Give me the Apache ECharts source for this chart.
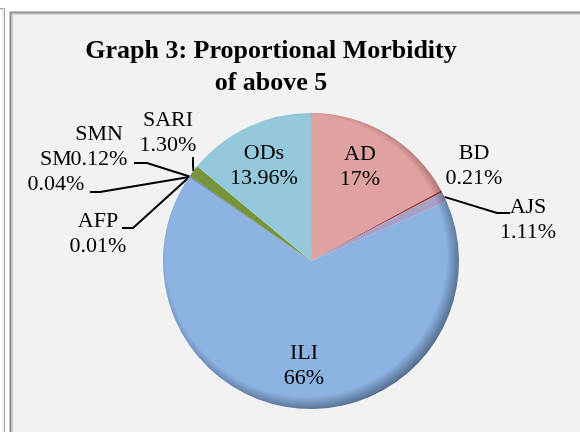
<!DOCTYPE html>
<html>
<head>
<meta charset="utf-8">
<script src="https://cdn.jsdelivr.net/npm/echarts@6/dist/echarts.min.js"></script>
<style>
  html, body { margin: 0; padding: 0; background: #fff; }
  #chart { width: 580px; height: 432px; }
</style>
</head>
<body>
<div id="chart"></div>
<script>
// data (share of cases, %)
const categories = ['AD', 'BD', 'AJS', 'ILI', 'AFP', 'SM', 'SMN', 'SARI', 'ODs'];
const shares = [17.1, 0.21, 1.11, 66.15, 0.01, 0.04, 0.12, 1.30, 13.96];
const shareLabels = ['17%', '0.21%', '1.11%', '66%', '0.01%', '0.04%', '0.12%', '1.30%', '13.96%'];

// look
const colors = ['#E0A2A1', '#953735', '#A9A0C6', '#8DB3E2', '#C0504D', '#8064A2', '#4F81BD', '#77933C', '#93C9DA'];
const shades = ['#8E5655', '#5A1C1B', '#5E5674', '#4D6686', '#6E2A28', '#473760', '#2B4A70', '#44561F', '#4F7583'];
const CX = 311, CY = 261, R = 148;

// label centres and leader bends
const labelPos = {
  AD: [360, 167], BD: [474, 166], AJS: [528, 220], ILI: [304, 366],
  AFP: [98, 234], SM: [56, 172], SMN: [99, 147], SARI: [168, 133], ODs: [264, 166]
};
const leaderBends = {
  AJS: [[497, 213], [510, 213]],
  AFP: [[133, 228], [122, 228]],
  SM: [[100, 192], [90, 192]],
  SMN: [[147, 163], [134, 163]],
  SARI: [[193, 165], [193, 157]]
};

const chart = echarts.init(document.getElementById('chart'));

chart.setOption({
  backgroundColor: '#ffffff',
  animation: false,
  graphic: [
    // edge of the neighbouring box on the left
    { type: 'rect', z: -10, shape: { x: -20, y: 8.5, width: 24.5, height: 440 },
      style: { fill: '#ffffff', stroke: '#A6A6A6', lineWidth: 1 } },
    { type: 'rect', z: -10, shape: { x: -20, y: 9.5, width: 23, height: 440 },
      style: { fill: 'none', stroke: '#D9D9D9', lineWidth: 1 } },
    // chart area
    { type: 'rect', z: -10, shape: { x: 10.5, y: 12.5, width: 600, height: 440 },
      style: { fill: '#F2F2F2', stroke: '#8C8C8C', lineWidth: 2 } },
    { type: 'rect', z: -9, shape: { x: 12.5, y: 14.5, width: 600, height: 440 },
      style: { fill: 'none', stroke: '#D0D0D0', lineWidth: 1 } },
    {
      type: 'text', z: 10,
      style: {
        text: 'Graph 3: Proportional Morbidity\nof above 5',
        x: 271, y: 35,
        textAlign: 'center',
        fontFamily: 'Liberation Serif', fontWeight: 'bold', fontSize: 26,
        lineHeight: 32, fill: '#000'
      }
    }
  ],
  series: [{
    type: 'pie',
    center: [CX, CY],
    radius: R,
    startAngle: 90,
    clockwise: true,
    avoidLabelOverlap: false,
    itemStyle: { borderWidth: 0 },
    label: {
      show: true,
      position: 'outside',
      fontFamily: 'Liberation Serif',
      fontSize: 22,
      lineHeight: 25,
      color: '#000',
      align: 'center',
      formatter: p => p.name + '\n' + shareLabels[p.dataIndex]
    },
    labelLine: { show: true, lineStyle: { color: '#000', width: 2 } },
    labelLayout: p => {
      const name = categories[p.dataIndex];
      const pos = labelPos[name];
      const out = { x: pos[0], y: pos[1], align: 'center', verticalAlign: 'middle' };
      const bends = leaderBends[name];
      if (bends && p.labelLinePoints) {
        out.labelLinePoints = [p.labelLinePoints[0]].concat(bends);
      }
      return out;
    },
    data: categories.map((name, i) => ({
      name,
      value: shares[i],
      labelLine: { show: !!leaderBends[name] },
      itemStyle: {
        color: {
          type: 'radial', global: true, x: CX - 5, y: CY - 5, r: R + 8,
          colorStops: [
            { offset: 0, color: colors[i] },
            { offset: 0.9, color: colors[i] },
            { offset: 1, color: shades[i] }
          ]
        }
      }
    }))
  }]
});
</script>
</body>
</html>
